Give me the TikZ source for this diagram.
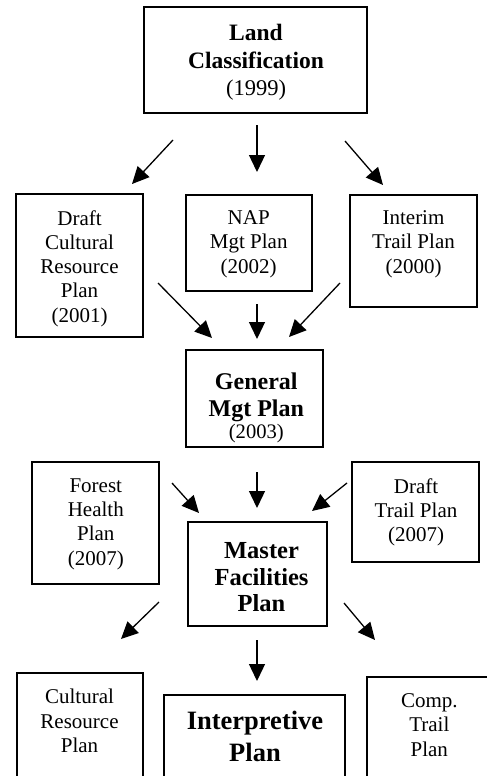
\documentclass[tikz,border=0pt]{standalone}
\usepackage{fontspec}
\setmainfont{Liberation Serif}
\usetikzlibrary{arrows.meta}
\tikzset{
  box/.style={draw, line width=1.5pt, anchor=north west, inner sep=0pt, outer sep=0pt},
  txt/.style={anchor=base, align=center, inner sep=0pt},
  norm/.style={font=\fontsize{21}{24.2}\selectfont},
  arr/.style={line width=1.3pt, -{Triangle[length=17pt,width=16pt]}}
}
\begin{document}
\begin{tikzpicture}[x=1pt,y=-1pt]
\useasboundingbox (0,0) rectangle (487,776);
\clip (0,0) rectangle (487,776);
% boxes
\node[box, minimum width=223pt, minimum height=106pt] (L) at (144,7) {};
\node[box, minimum width=127pt, minimum height=143pt] (A) at (16,194) {};
\node[box, minimum width=126pt, minimum height=96pt] (B) at (186,195) {};
\node[box, minimum width=127pt, minimum height=112pt] (C) at (350,195) {};
\node[box, minimum width=137pt, minimum height=97pt] (G) at (186,350) {};
\node[box, minimum width=127pt, minimum height=122pt] (F) at (32,462) {};
\node[box, minimum width=127pt, minimum height=100pt] (D) at (352,462) {};
\node[box, minimum width=139pt, minimum height=104pt] (M) at (188,522) {};
\node[box, minimum width=126pt, minimum height=140pt] (R) at (17,673) {};
\node[box, minimum width=181pt, minimum height=120pt] (I) at (164,695) {};
\node[box, minimum width=140pt, minimum height=140pt] (T) at (367,677) {};
% texts (anchor = baseline of the last line)
\node[txt, font=\fontsize{23.5}{27.4}\selectfont\bfseries] (Lt) at (256,68.3) {Land\\Classification};
\node[txt, font=\fontsize{22.5}{27}\selectfont] (Ly) at (256,95) {(1999)};
\node[txt, norm] (At) at (79.5,322) {Draft\\Cultural\\Resource\\Plan\\(2001)};
\node[txt, norm] (Bt) at (248.7,273) {NAP\\Mgt Plan\\(2002)};
\node[txt, norm] (Ct) at (413.5,273) {Interim\\Trail Plan\\(2000)};
\node[txt, font=\fontsize{24}{26.7}\selectfont\bfseries] (Gt) at (256.3,416) {General\\Mgt Plan};
\node[txt, font=\fontsize{20.6}{22}\selectfont] (Gy) at (256.3,438.3) {(2003)};
\node[txt, norm] (Ft) at (95.8,565) {Forest\\Health\\Plan\\(2007)};
\node[txt, norm] (Dt) at (416,541.7) {Draft\\Trail Plan\\(2007)};
\node[txt, font=\fontsize{24.5}{26.7}\selectfont\bfseries] (Mt) at (261.5,611.7) {Master\\Facilities\\Plan};
\node[txt, norm] (Rt) at (79.5,752.3) {Cultural\\Resource\\Plan};
\node[txt, font=\fontsize{26.5}{31.7}\selectfont\bfseries] (It) at (255,761) {Interpretive\\Plan};
\node[txt, norm] (Tt) at (429.3,756) {Comp.\\Trail\\Plan};
% arrow end points
\coordinate (a1s) at (173,140); \coordinate (a1e) at (132,184);
\coordinate (a2s) at (257,125); \coordinate (a2e) at (257,172);
\coordinate (a3s) at (345,141); \coordinate (a3e) at (383,185);
\coordinate (b1s) at (158,283); \coordinate (b1e) at (212,338);
\coordinate (b2s) at (257,304); \coordinate (b2e) at (257,339);
\coordinate (b3s) at (340,283); \coordinate (b3e) at (289,337);
\coordinate (c1s) at (172,483); \coordinate (c1e) at (199,513);
\coordinate (c2s) at (257,472); \coordinate (c2e) at (257,508);
\coordinate (c3s) at (347,483); \coordinate (c3e) at (312,511);
\coordinate (d1s) at (159,602); \coordinate (d1e) at (121,639);
\coordinate (d2s) at (257,640); \coordinate (d2e) at (257,681);
\coordinate (d3s) at (344,603); \coordinate (d3e) at (375,640);
\foreach \p in {a1,a2,a3,b1,b2,b3,c1,c2,c3,d1,d2,d3}
  \draw[arr] (\p s) -- (\p e);
\end{tikzpicture}
\end{document}
